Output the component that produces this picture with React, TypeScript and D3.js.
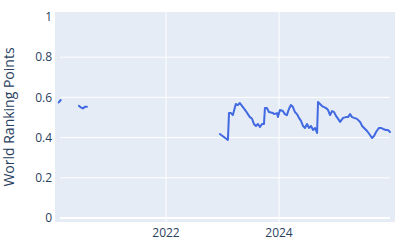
import React from "react";
import * as d3 from "d3";

const dates: string[] = [
  "2020-02-08", "2020-02-21", "2020-04-01",
  "2020-06-17", "2020-06-30", "2020-07-13", "2020-07-26", "2020-08-08", "2021-06-01",
  "2022-12-15", "2023-02-05", "2023-02-12", "2023-02-25", "2023-03-09", "2023-03-28",
  "2023-04-10", "2023-04-23", "2023-05-13", "2023-06-01", "2023-06-14", "2023-06-27",
  "2023-07-10", "2023-07-23", "2023-08-05", "2023-08-18", "2023-08-31", "2023-09-13",
  "2023-09-26", "2023-10-02", "2023-10-15", "2023-10-28", "2023-11-23", "2023-11-30",
  "2023-12-19", "2023-12-25", "2024-01-07", "2024-01-26", "2024-02-08", "2024-02-21",
  "2024-03-05", "2024-03-18", "2024-03-31", "2024-04-13", "2024-04-26", "2024-05-09",
  "2024-05-22", "2024-06-04", "2024-06-17", "2024-06-30", "2024-07-13", "2024-07-26",
  "2024-08-08", "2024-08-21", "2024-09-03", "2024-09-09", "2024-09-22", "2024-10-05",
  "2024-10-31", "2024-11-13", "2024-11-26", "2024-12-09", "2024-12-22", "2025-01-04",
  "2025-01-17", "2025-01-30", "2025-02-18", "2025-03-09", "2025-03-22", "2025-04-04",
  "2025-04-17", "2025-04-30", "2025-05-19", "2025-06-08", "2025-06-21", "2025-07-10",
  "2025-07-23", "2025-08-11", "2025-08-24", "2025-09-06", "2025-09-19", "2025-10-08",
  "2025-10-21", "2025-11-03", "2025-11-22", "2025-12-05", "2025-12-18",
];

const points: (number | null)[] = [
  0.575, 0.587, null,
  0.558, 0.55, 0.545, 0.553, 0.553, null,
  0.418, 0.388, 0.522, 0.522, 0.512, 0.567,
  0.562, 0.572, 0.552, 0.532, 0.517, 0.502,
  0.495, 0.468, 0.458, 0.468, 0.453, 0.468,
  0.468, 0.547, 0.547, 0.527, 0.522, 0.517,
  0.522, 0.502, 0.537, 0.532, 0.517, 0.512,
  0.542, 0.562, 0.552, 0.527, 0.517, 0.498,
  0.483, 0.458, 0.448, 0.468, 0.448, 0.458,
  0.438, 0.448, 0.423, 0.577, 0.567, 0.557,
  0.547, 0.537, 0.512, 0.532, 0.527, 0.507,
  0.493, 0.478, 0.498, 0.502, 0.502, 0.517,
  0.502, 0.498, 0.493, 0.478, 0.458, 0.443,
  0.433, 0.413, 0.398, 0.408, 0.428, 0.448,
  0.448, 0.443, 0.438, 0.438, 0.428,
];

const yTicks: number[] = [0, 0.2, 0.4, 0.6, 0.8, 1];
const xTickYears: number[] = [2022, 2024];
const yTitle = "World Ranking Points";

export default function App() {
  const W = 400, H = 250;
  const bgL = 55, bgR = 395, bgT = 12, bgB = 222;
  const parse = d3.timeParse("%Y-%m-%d");
  const x = d3
    .scaleTime()
    .domain([new Date(2022, 0, 1), new Date(2024, 0, 1)])
    .range([166, 279]);
  const y = d3.scaleLinear().domain([0, 1]).range([218, 17]);

  const data = dates.map((d, i) => ({ date: parse(d) as Date, v: points[i] }));
  const line = d3
    .line<{ date: Date; v: number | null }>()
    .defined((d) => d.v !== null)
    .x((d) => x(d.date))
    .y((d) => y(d.v as number));

  const font = "'Open Sans', verdana, arial, sans-serif";
  const textColor = "#2a3f5f";

  return (
    <svg
      width={W}
      height={H}
      style={{ position: "absolute", left: 0, top: 0 }}
      fontFamily={font}
    >
      <rect x={0} y={0} width={W} height={H} fill="#fff" />
      <rect x={bgL} y={bgT} width={bgR - bgL} height={bgB - bgT} fill="#E5ECF6" />
      {xTickYears.map((yr) => {
        const xx = x(new Date(yr, 0, 1));
        return (
          <line key={"vx" + yr} x1={xx} x2={xx} y1={bgT} y2={bgB} stroke="#fff" strokeWidth={1} />
        );
      })}
      {yTicks
        .filter((t) => t > 0 && t < 1)
        .map((t) => (
          <line key={"gy" + t} x1={60} x2={390} y1={y(t)} y2={y(t)} stroke="#fff" strokeWidth={1} />
        ))}
      <line x1={60} x2={390} y1={y(0)} y2={y(0)} stroke="#fff" strokeWidth={2} />
      <path
        d={line(data) || ""}
        fill="none"
        stroke="#4169E1"
        strokeWidth={2}
        strokeLinejoin="round"
        strokeLinecap="round"
      />
      {yTicks.map((t) => (
        <text
          key={"ty" + t}
          x={52}
          y={y(t)}
          dy="0.35em"
          textAnchor="end"
          fontSize={12}
          fill={textColor}
        >
          {d3.format("~g")(t)}
        </text>
      ))}
      {xTickYears.map((yr) => (
        <text
          key={"tx" + yr}
          x={x(new Date(yr, 0, 1))}
          y={237}
          textAnchor="middle"
          fontSize={12}
          fill={textColor}
        >
          {yr}
        </text>
      ))}
      <text
        transform={`translate(14,117) rotate(-90)`}
        textAnchor="middle"
        fontSize={14}
        fill={textColor}
      >
        {yTitle}
      </text>
    </svg>
  );
}
